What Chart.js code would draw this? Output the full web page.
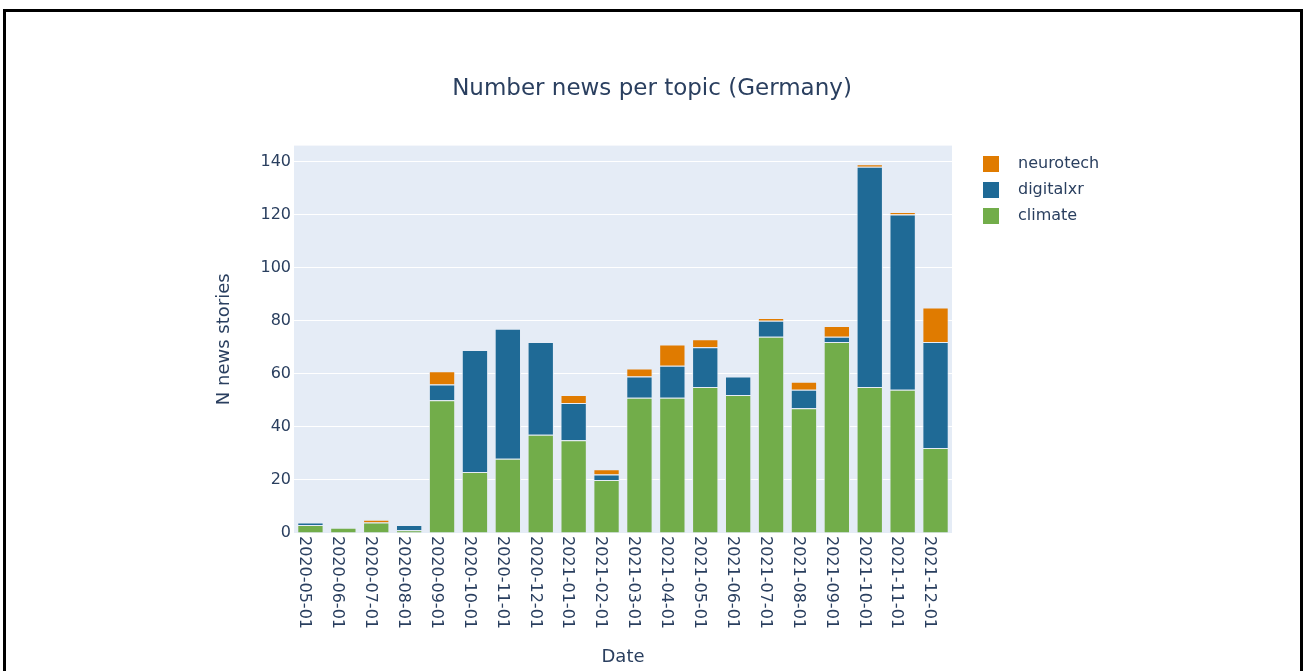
<!DOCTYPE html>
<html>
<head>
<meta charset="utf-8">
<title>Number news per topic (Germany)</title>
<script src="https://cdn.jsdelivr.net/npm/chart.js@4.4.1/dist/chart.umd.min.js"></script>
<style>
  html, body { margin: 0; padding: 0; background: #fff; }
  #wrap { position: relative; width: 1304px; height: 671px; overflow: hidden; }
  #frame { position: absolute; left: 3px; top: 9px; width: 1300px; height: 700px;
           border: 3px solid #000; box-sizing: border-box; pointer-events: none; }
</style>
</head>
<body>
<div id="wrap">
  <canvas id="topic_chart" width="1304" height="671"></canvas>
  <div id="frame"></div>
</div>
<script>
// monthly buckets
const months = [
  "2020-05-01", "2020-06-01", "2020-07-01", "2020-08-01", "2020-09-01", "2020-10-01",
  "2020-11-01", "2020-12-01", "2021-01-01", "2021-02-01", "2021-03-01", "2021-04-01",
  "2021-05-01", "2021-06-01", "2021-07-01", "2021-08-01", "2021-09-01", "2021-10-01",
  "2021-11-01", "2021-12-01"
];

// stories per topic
const climate   = [3, 2, 4, 1, 50, 23, 28, 37, 35, 20, 51, 51, 55, 52, 74, 47, 72, 55, 54, 32];
const digitalxr = [1, 0, 0, 2, 6, 46, 49, 35, 14, 2, 8, 12, 15, 7, 6, 7, 2, 83, 66, 40];
const neurotech = [0, 0, 1, 0, 5, 0, 0, 0, 3, 2, 3, 8, 3, 0, 1, 3, 4, 1, 1, 13];

const yTicks = [0, 20, 40, 60, 80, 100, 120, 140];

const textColor = "#2a3f5f";
const PLOT_RIGHT = 952;
const LEGEND_LEFT = 973;

Chart.defaults.font.family = '"DejaVu Sans", Verdana, sans-serif';
Chart.defaults.color = textColor;

// light blue plot background behind the grid
const plotBg = {
    id: "plotBg",
    beforeDraw(chart) {
        const { ctx, chartArea: a } = chart;
        ctx.save();
        ctx.fillStyle = "#e5ecf6";
        ctx.fillRect(a.left, a.top, a.width, a.height);
        ctx.restore();
    }
};

// date labels read top to bottom, like the original
const flipDates = {
    id: "flipDates",
    beforeDraw(chart) {
        const sc = chart.scales.x;
        sc.getLabelItems(chart.chartArea).forEach((item, i) => {
            item.textOffset = 0;
            item.options.rotation = Math.PI / 2;
            item.options.textAlign = "left";
            item.options.textBaseline = "middle";
            item.options.translation = [sc.getPixelForTick(i) - 6, sc.top + 3];
        });
    }
};

// title centred on the whole figure, legend a little off the plot
const placeBlocks = {
    id: "placeBlocks",
    afterLayout(chart) {
        const lg = chart.legend;
        const dx = LEGEND_LEFT - lg.left;
        lg.left += dx;
        lg.right += dx;
        chart.titleBlock.left = 0;
        chart.titleBlock.right = chart.width;
    }
};

// legend swatch: 16px square with some room before the text
function swatch(color) {
    const c = document.createElement("canvas");
    c.width = 27;
    c.height = 16;
    const g = c.getContext("2d");
    g.fillStyle = color;
    g.fillRect(0, 0, 16, 16);
    return c;
}

function makeDataset(label, data, color) {
    return {
        label: label,
        data: data,
        backgroundColor: color,
        borderColor: "rgba(229,236,246,0.9)",
        borderWidth: 1,
        barPercentage: 0.8,
        categoryPercentage: 1.0
    };
}

const chart = new Chart(document.getElementById("topic_chart"), {
    type: "bar",
    data: {
        labels: months,
        datasets: [
            makeDataset("climate", climate, "#72ad4a"),
            makeDataset("digitalxr", digitalxr, "#1f6a96"),
            makeDataset("neurotech", neurotech, "#e07b00")
        ]
    },
    options: {
        responsive: false,
        animation: false,
        devicePixelRatio: 1,
        layout: { padding: { left: 210, right: 236, top: 0, bottom: 0 } },
        scales: {
            x: {
                stacked: true,
                grid: { display: false },
                border: { display: false },
                ticks: { autoSkip: false, minRotation: 90, maxRotation: 90, padding: 2, font: { size: 16 } },
                title: { display: true, text: "Date", font: { size: 18 }, padding: { top: 4, bottom: 3 } },
                afterFit(scale) { scale.height = 138; }
            },
            y: {
                stacked: true,
                min: 0,
                max: 146,
                grid: { color: "#ffffff", lineWidth: 1, drawTicks: false },
                border: { display: false },
                afterBuildTicks(scale) { scale.ticks = yTicks.map(v => ({ value: v })); },
                ticks: { padding: 3, font: { size: 16 } },
                title: { display: true, text: "N news stories", font: { size: 18 }, padding: { top: 4, bottom: 0 } },
                afterFit(scale) { scale.width = 84; }
            }
        },
        plugins: {
            title: {
                display: true,
                text: "Number news per topic (Germany)",
                color: textColor,
                font: { size: 23, weight: "normal" },
                padding: { top: 75, bottom: 43 }
            },
            legend: {
                position: "right",
                align: "start",
                fullSize: false,
                reverse: true,
                labels: {
                    usePointStyle: true,
                    pointStyleWidth: 27,
                    padding: 10,
                    color: textColor,
                    font: { size: 16 },
                    generateLabels(chart) {
                        const items = Chart.defaults.plugins.legend.labels.generateLabels(chart);
                        items.forEach(it => {
                            it.pointStyle = swatch(chart.data.datasets[it.datasetIndex].backgroundColor);
                        });
                        return items;
                    }
                }
            },
            tooltip: { enabled: false }
        }
    },
    plugins: [plotBg, flipDates, placeBlocks]
});

// nudge right padding so the plot ends where the reference does
const dr = chart.chartArea.right - PLOT_RIGHT;
if (Math.abs(dr) > 0.5) {
    chart.options.layout.padding.right += dr;
    chart.update();
}
</script>
</body>
</html>
